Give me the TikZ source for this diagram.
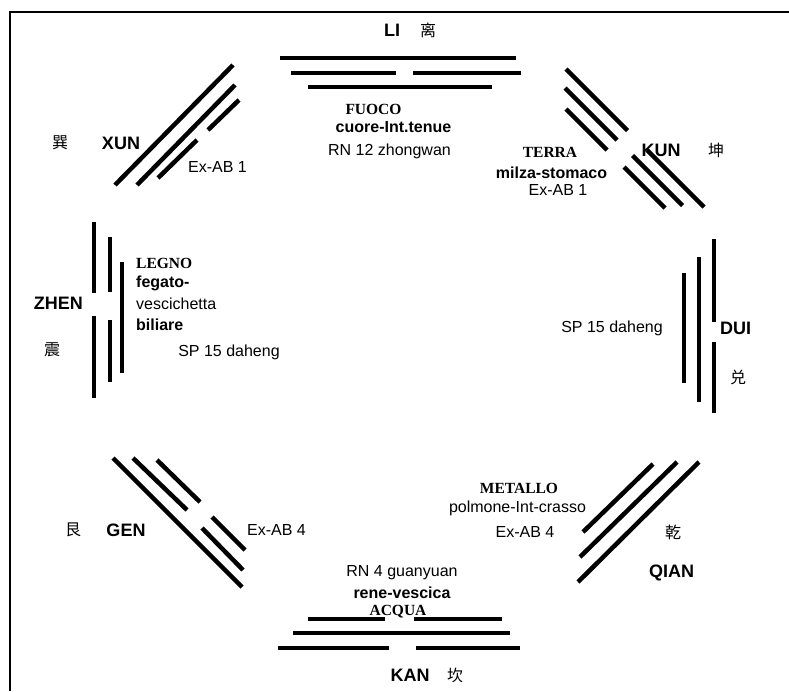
\documentclass[tikz,border=0pt]{standalone}
\usepackage{fontspec}
\setmainfont{Liberation Serif}
\setsansfont{Liberation Sans}
\newfontfamily\cjk{Noto Sans CJK SC}
\usetikzlibrary{positioning}

\begin{document}
\begin{tikzpicture}[x=1pt, y=-1pt, node distance=6pt, bar/.style={line width=4.5pt}, gua/.style={font=\sffamily\bfseries\fontsize{18}{20}\selectfont, inner sep=0pt}, han/.style={font=\cjk\fontsize{16}{18}\selectfont, inner sep=0pt}, elem/.style={font=\rmfamily\bfseries\fontsize{15.5}{17}\selectfont, inner sep=0pt}, organ/.style={font=\sffamily\bfseries\fontsize{16}{18}\selectfont, inner sep=0pt}, point/.style={font=\sffamily\fontsize{16}{18}\selectfont, inner sep=0pt}]

        \useasboundingbox (0,0) rectangle (789,691);
        \draw[line width=1.2pt] (10,691) -- (10,12) -- (789,12);

        % LI
        \node[gua] (li) at (392,30) {LI};
        \node[han, right=36pt of li.center, anchor=center] (lichar) {离};
        \draw[bar] (280,58) -- (516,58);
        \draw[bar] (291,73) -- (396,73);
        \draw[bar] (413,73) -- (521,73);
        \draw[bar] (308,87) -- (492,87);
        \node[elem] (fuoco) at (373.5,109) {FUOCO};
        \node[organ] (cuore) at (393.5,127) {cuore-Int.tenue};
        \node[point] (rn12) at (389.5,151) {RN 12 zhongwan};

        % XUN
        \node[gua] (xun) at (121,143) {XUN};
        \node[han] (xunchar) at (60,143) {巽};
        \draw[bar] (115,185) -- (233,65);
        \draw[bar] (137,185) -- (235,85);
        \draw[bar] (158,178) -- (197,140);
        \draw[bar] (208,130) -- (239,100);
        \node[point, anchor=west] (exab1a) at (188,167) {Ex-AB 1};

        % KUN
        \node[gua] (kun) at (661,150) {KUN};
        \node[han] (kunchar) at (716,150) {坤};
        \draw[bar] (566,69) -- (627.5,130.5);
        \draw[bar] (647,150) -- (704,207);
        \draw[bar] (565,88) -- (617,140);
        \draw[bar] (632.5,155.5) -- (682.5,205.5);
        \draw[bar] (566,109) -- (607,150);
        \draw[bar] (624,167) -- (665,208);
        \node[elem] (terra) at (550,152) {TERRA};
        \node[organ] (milza) at (551.5,173) {milza-stomaco};
        \node[point] (exab1b) at (558,190) {Ex-AB 1};

        % DUI
        \node[gua, anchor=west] (dui) at (720,328) {DUI};
        \node[han] (duichar) at (738,377) {兑};
        \draw[bar] (714,239) -- (714,322);
        \draw[bar] (714,342) -- (714,413);
        \draw[bar] (699,257) -- (699,402);
        \draw[bar] (684,273) -- (684,383);
        \node[point] (sp15b) at (612,328) {SP 15 daheng};

        % ZHEN
        \node[gua, anchor=east] (zhen) at (83,303) {ZHEN};
        \node[han] (zhenchar) at (52,350) {震};
        \draw[bar] (94,222) -- (94,293);
        \draw[bar] (94,316) -- (94,398);
        \draw[bar] (110,237) -- (110,292);
        \draw[bar] (110,320) -- (110,382);
        \draw[bar] (122,262) -- (122,373);
        \node[elem, anchor=west] (legno) at (136,263) {LEGNO};
        \node[organ, anchor=west] (fegato) at (136,283) {fegato-};
        \node[point, anchor=west] (vesc) at (136,304) {vescichetta};
        \node[organ, anchor=west] (biliare) at (136,325) {biliare};
        \node[point] (sp15a) at (229,352) {SP 15 daheng};

        % GEN
        \node[gua] (gen) at (126,530) {GEN};
        \node[han] (genchar) at (73,530) {艮};
        \draw[bar] (113,458) -- (242,587);
        \draw[bar] (133,458) -- (187,510);
        \draw[bar] (202,528) -- (243,570);
        \draw[bar] (157,460) -- (200,502);
        \draw[bar] (212,517) -- (245,550);
        \node[point, anchor=west] (exab4a) at (247,530) {Ex-AB 4};

        % QIAN
        \node[gua] (qian) at (671.5,573) {QIAN};
        \node[han] (qianchar) at (673,532) {乾};
        \draw[bar] (583,532) -- (653,464);
        \draw[bar] (580,557) -- (677,462);
        \draw[bar] (578,582) -- (699,462);
        \node[elem] (metallo) at (519,488) {METALLO};
        \node[point] (polmone) at (517.5,508) {polmone-Int-crasso};
        \node[point] (exab4b) at (525,532) {Ex-AB 4};

        % KAN
        \node[gua] (kan) at (410,675) {KAN};
        \node[han] (kanchar) at (455,675) {坎};
        \draw[bar] (308,619) -- (385,619);
        \draw[bar] (414,619) -- (502,619);
        \draw[bar] (293,633) -- (510,633);
        \draw[bar] (278,648) -- (389,648);
        \draw[bar] (416,648) -- (520,648);
        \node[point] (rn4) at (402,573) {RN 4 guanyuan};
        \node[organ] (rene) at (402,593) {rene-vescica};
        \node[elem] (acqua) at (398,612) {ACQUA};

    \end{tikzpicture}
\end{document}
